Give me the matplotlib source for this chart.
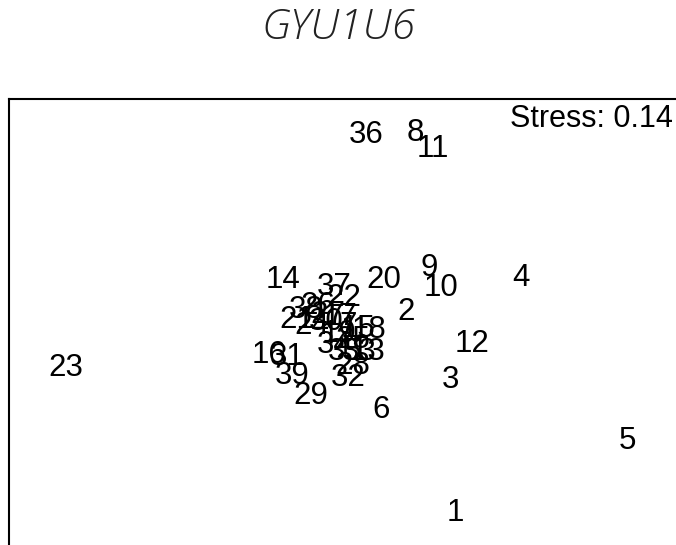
import matplotlib
matplotlib.use("Agg")
import matplotlib.pyplot as plt

# MDS configuration, one label per item
labels = ["1", "2", "3", "4", "5", "6", "8", "9", "10", "11", "12", "14", "16",
          "20", "23", "29", "31", "32", "36", "37", "39",
          "22", "21", "38", "26", "27", "17", "24", "30", "7", "15", "18",
          "19", "25", "13", "34", "28", "33", "35"]
dim1 = [0.82, 0.47, 0.79, 1.29, 2.05, 0.29, 0.54, 0.64, 0.72, 0.66, 0.94, -0.41, -0.51,
        0.31, -1.96, -0.21, -0.38, 0.06, 0.19, -0.04, -0.34,
        0.03, -0.31, -0.24, -0.16, -0.09, 0.00, -0.20, -0.10, 0.06, 0.13, 0.21,
        -0.01, 0.09, 0.20, -0.04, 0.09, 0.14, 0.04]
dim2 = [-1.31, 0.13, -0.36, 0.37, -0.79, -0.57, 1.41, 0.44, 0.30, 1.29, -0.10, 0.36, -0.18,
        0.36, -0.27, -0.47, -0.19, -0.34, 1.39, 0.31, -0.33,
        0.23, 0.07, 0.14, 0.17, 0.11, 0.09, 0.03, 0.06, 0.03, 0.01, 0.00,
        -0.03, -0.07, -0.16, -0.11, -0.26, -0.16, -0.16]
stress = 0.14
title = "GYU1U6"

plt.rcParams['font.family'] = ['Liberation Sans', 'DejaVu Sans']

fig = plt.figure(figsize=(6.76, 5.45), dpi=100)
# the frame runs past the right and bottom edges of the picture
ax = fig.add_axes([9 / 676, -15 / 545, 691 / 676, 461 / 545])
ax.set_xlim(-2.364, 2.571)
ax.set_ylim(-1.643, 1.650)
for s in ax.spines.values():
    s.set_linewidth(1.5)
ax.set_xticks([])
ax.set_yticks([])

for lab, x, y in zip(labels, dim1, dim2):
    ax.text(x, y, lab, fontsize=22.5, ha="center", va="center", color="black")

fig.text(673 / 676, 1 - 119 / 545, f"Stress: {stress:.2f}", fontsize=22,
         ha="right", va="center")
fig.text(0.5, 1 - 28 / 545, title, fontsize=31, style="italic", ha="center",
         va="center", color="#222222",
         family=['Open Sans', 'Liberation Sans'], fontweight="light")

fig.savefig("out.png", dpi=100)
